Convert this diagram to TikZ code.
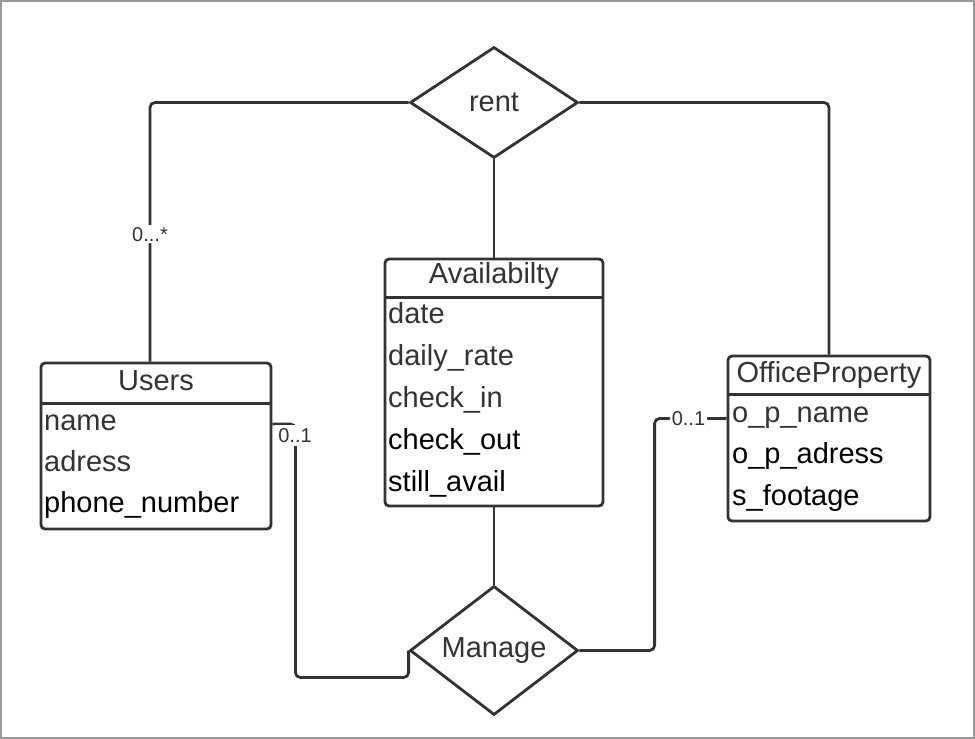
\documentclass[tikz,border=0pt]{standalone}
\usepackage{fontspec}
\setmainfont{Liberation Sans}
\usepackage{tikz}
\usetikzlibrary{shapes.geometric,calc}
\definecolor{ink}{HTML}{333333}
\definecolor{framegray}{HTML}{999999}
\tikzset{>=stealth,
  entity/.style={draw=ink, line width=2.8pt, rounded corners=4pt, inner sep=0pt},
  relation/.style={diamond, draw=ink, line width=2.8pt, inner sep=0pt, aspect=1.5, text=ink, font=\fontsize{29}{34}\selectfont},
  link/.style={draw=ink, line width=2.8pt, rounded corners=5pt},
  title/.style={anchor=base, text=ink, font=\fontsize{29}{34}\selectfont, inner sep=0pt},
  attr/.style={anchor=base west, font=\fontsize{29}{34}\selectfont, inner sep=0pt},
  mult/.style={fill=white, text=ink, font=\fontsize{20}{24}\selectfont, inner sep=2pt}
}

\begin{document}
\begin{tikzpicture}[x=1pt,y=-1pt]
  \useasboundingbox (0,0) rectangle (975,739);
  \draw[framegray, line width=2pt] (1,1) rectangle (974,738);
  % entities
  \node[entity, minimum width=230pt, minimum height=166pt] (users) at (156,446) {};
  \node[entity, minimum width=218pt, minimum height=247pt] (avail) at (494,382.5) {};
  \node[entity, minimum width=202pt, minimum height=165pt] (office) at (829,438.5) {};
  \draw[ink, line width=2.8pt] ([yshift=-42pt]users.north west) -- ([yshift=-42pt]users.north east);
  \draw[ink, line width=2.8pt] ([yshift=-40pt]avail.north west) -- ([yshift=-40pt]avail.north east);
  \draw[ink, line width=2.8pt] ([yshift=-40pt]office.north west) -- ([yshift=-40pt]office.north east);
  % relations
  \node[relation, minimum width=168pt, minimum height=111pt] (rent) at (494,102.5) {rent};
  \node[relation, minimum width=168pt, minimum height=129pt] (manage) at (494,650.5) {Manage};
  % connectors
  \draw[link] (rent.west) -| ([xshift=-6pt]users.north) node[mult, pos=0.754] (m1) {0...*};
  \draw[link] (rent.east) -| (office.north);
  \draw[link] (rent.south) -- (avail.north);
  \draw[link] (avail.south) -- (manage.north);
  \draw[link] (manage.west) -- ++(0,27) -| ([xshift=23pt,yshift=22pt]users.east) -- ([yshift=22pt]users.east);
  \node[mult, inner sep=3pt] (m2) at (295,435.5) {0..1};
  \draw[link] (manage.east) -| ([xshift=-72pt,yshift=20pt]office.west) -- ([yshift=20pt]office.west) node[mult, pos=0.47] (m3) {0..1};
  % Users
  \node[title] (usersT) at (156,390) {Users};
  \node[attr, text=ink] (u1) at (44,430) {name};
  \node[attr, text=ink] (u2) at (44,471) {adress};
  \node[attr] (u3) at (44,512) {phone\_number};
  % Availabilty
  \node[title] (availT) at (494,283) {Availabilty};
  \node[attr, text=ink] (a1) at (388,323) {date};
  \node[attr, text=ink] (a2) at (388,365) {daily\_rate};
  \node[attr, text=ink] (a3) at (388,407) {check\_in};
  \node[attr] (a4) at (388,449) {check\_out};
  \node[attr] (a5) at (388,491) {still\_avail};
  % OfficeProperty
  \node[title] (officeT) at (829,382) {OfficeProperty};
  \node[attr, text=ink] (o1) at (732,422) {o\_p\_name};
  \node[attr] (o2) at (732,463) {o\_p\_adress};
  \node[attr] (o3) at (732,505) {s\_footage};
\end{tikzpicture}
\end{document}
